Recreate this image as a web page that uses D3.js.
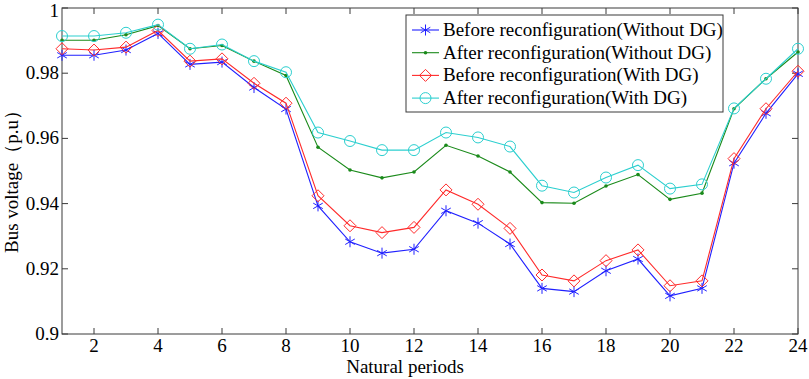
<!DOCTYPE html>
<html>
<head>
<meta charset="utf-8">
<script src="https://cdn.jsdelivr.net/npm/d3@7"></script>
<style>
  body { margin: 0; background: #fff; }
  text { font-family: "Liberation Serif", "Times New Roman", serif; fill: #000; }
</style>
</head>
<body>
<div id="chart"></div>
<script>
const periods = d3.range(1, 25)
const beforeNoDG = [0.9855, 0.9855, 0.9871, 0.9922, 0.9827, 0.9834, 0.9756, 0.9690, 0.9393, 0.9283, 0.9248, 0.9260,
  0.9378, 0.9340, 0.9276, 0.9140, 0.9130, 0.9194, 0.9230, 0.9117, 0.9140, 0.9524, 0.9677, 0.9798]
const afterNoDG = [0.9901, 0.9901, 0.9918, 0.9946, 0.9875, 0.9885, 0.9837, 0.9793, 0.9573, 0.9503, 0.9479, 0.9497,
  0.9579, 0.9546, 0.9497, 0.9403, 0.9401, 0.9454, 0.9489, 0.9413, 0.9432, 0.9691, 0.9783, 0.9865]
const beforeDG = [0.9875, 0.9871, 0.9880, 0.9931, 0.9837, 0.9844, 0.9769, 0.9708, 0.9424, 0.9332, 0.9311, 0.9327,
  0.9442, 0.9398, 0.9324, 0.9181, 0.9163, 0.9225, 0.9258, 0.9148, 0.9163, 0.9538, 0.9691, 0.9806]
const afterDG = [0.9914, 0.9914, 0.9924, 0.9949, 0.9875, 0.9888, 0.9837, 0.9803, 0.9618, 0.9592, 0.9564, 0.9564,
  0.9618, 0.9603, 0.9575, 0.9455, 0.9434, 0.9480, 0.9518, 0.9446, 0.9459, 0.9692, 0.9783, 0.9875]
const seriesNames = ['Before reconfiguration(Without DG)', 'After reconfiguration(Without DG)',
  'Before reconfiguration(With DG)', 'After reconfiguration(With DG)']
const xTicks = d3.range(2, 25, 2)
const yTicks = [0.9, 0.92, 0.94, 0.96, 0.98, 1]
const yTickLabels = ['0.9', '0.92', '0.94', '0.96', '0.98', '1']

const W = 809
const H = 379
const margin = {top: 8, left: 62, right: 11, bottom: 45}
const width = W - margin.left - margin.right
const height = H - margin.top - margin.bottom
const axisColor = '#3a3a3a'
const fontSize = 19

const series = [
  {name: seriesNames[0], values: beforeNoDG, color: '#2020ff', marker: 'star'},
  {name: seriesNames[1], values: afterNoDG, color: '#1a8a1a', marker: 'dot'},
  {name: seriesNames[2], values: beforeDG, color: '#ff2a2a', marker: 'diamond'},
  {name: seriesNames[3], values: afterDG, color: '#2ccfcf', marker: 'circle'}
]

let svg = d3.select('#chart').append('svg')
  .attr('width', W)
  .attr('height', H)
  .append('g')
  .attr('transform', `translate(${margin.left},${margin.top})`)

const xScale = d3.scaleLinear().domain([1, 24]).range([0, width])
const yScale = d3.scaleLinear().domain([0.9, 1]).range([height, 0])

// box frame
svg.append('rect')
  .attr('width', width).attr('height', height)
  .style('fill', 'none').style('stroke', axisColor).style('stroke-width', 1)

// ticks, inward on all four sides
let tickG = svg.append('g').style('stroke', axisColor).style('stroke-width', 1)
xTicks.forEach(t => {
  tickG.append('line').attr('x1', xScale(t)).attr('x2', xScale(t)).attr('y1', height).attr('y2', height - 6)
  tickG.append('line').attr('x1', xScale(t)).attr('x2', xScale(t)).attr('y1', 0).attr('y2', 6)
})
yTicks.forEach(t => {
  tickG.append('line').attr('x1', 0).attr('x2', 6).attr('y1', yScale(t)).attr('y2', yScale(t))
  tickG.append('line').attr('x1', width).attr('x2', width - 6).attr('y1', yScale(t)).attr('y2', yScale(t))
})

svg.append('g').selectAll('text')
  .data(xTicks)
  .enter()
  .append('text')
  .attr('x', d => xScale(d))
  .attr('y', height + 18)
  .attr('text-anchor', 'middle')
  .style('font-size', fontSize + 'px')
  .text(d => d)

// top label "1" is kept inside the window
svg.append('g').selectAll('text')
  .data(yTicks)
  .enter()
  .append('text')
  .attr('x', -3)
  .attr('y', d => Math.max(yScale(d) + 6, 9))
  .attr('text-anchor', 'end')
  .style('font-size', fontSize + 'px')
  .text((d, i) => yTickLabels[i])

svg.append('text')
  .attr('x', width / 2 - 25)
  .attr('y', height + 39)
  .attr('text-anchor', 'middle')
  .style('font-size', fontSize + 'px')
  .text('Natural periods')

svg.append('text')
  .attr('transform', `translate(${18 - margin.left},${177 - margin.top}) rotate(-90)`)
  .attr('text-anchor', 'middle')
  .style('font-size', fontSize + 'px')
  .text('Bus voltage（p.u）')

let drawMarker = function (g, kind, cx, cy, color) {
  if (kind === 'star') {
    const r = 5.5
    g.append('path')
      .attr('d', `M${cx},${cy - r}L${cx},${cy + r}` +
        `M${cx - r * 0.87},${cy - r * 0.5}L${cx + r * 0.87},${cy + r * 0.5}` +
        `M${cx - r * 0.87},${cy + r * 0.5}L${cx + r * 0.87},${cy - r * 0.5}`)
      .style('stroke', color).style('stroke-width', 1).style('fill', 'none')
  } else if (kind === 'dot') {
    g.append('circle').attr('cx', cx).attr('cy', cy).attr('r', 1.8).style('fill', color)
  } else if (kind === 'diamond') {
    const r = 6
    g.append('path')
      .attr('d', `M${cx},${cy - r}L${cx + r},${cy}L${cx},${cy + r}L${cx - r},${cy}Z`)
      .style('stroke', color).style('stroke-width', 1).style('fill', 'none')
  } else {
    g.append('circle').attr('cx', cx).attr('cy', cy).attr('r', 5.5)
      .style('stroke', color).style('stroke-width', 1).style('fill', 'none')
  }
}

const line = d3.line()
  .x((d, i) => xScale(periods[i]))
  .y(d => yScale(d))

series.forEach(s => {
  let g = svg.append('g')
  g.append('path')
    .datum(s.values)
    .attr('d', line)
    .style('fill', 'none')
    .style('stroke', s.color)
    .style('stroke-width', 1.1)
  s.values.forEach((v, i) => drawMarker(g, s.marker, xScale(periods[i]), yScale(v), s.color))
})

// legend
const lgX = 406 - margin.left
const lgY = 15 - margin.top
let legend = svg.append('g').attr('transform', `translate(${lgX},${lgY})`)
legend.append('rect')
  .attr('width', 317).attr('height', 97)
  .style('fill', '#fff').style('stroke', axisColor).style('stroke-width', 1)
series.forEach((s, i) => {
  const cy = 15 + i * 22.7
  legend.append('line')
    .attr('x1', 6).attr('x2', 33).attr('y1', cy).attr('y2', cy)
    .style('stroke', s.color).style('stroke-width', 1.1)
  drawMarker(legend, s.marker, 19.5, cy, s.color)
  legend.append('text')
    .attr('x', 37)
    .attr('y', cy + 6)
    .style('font-size', fontSize + 'px')
    .text(s.name)
})
</script>
</body>
</html>
